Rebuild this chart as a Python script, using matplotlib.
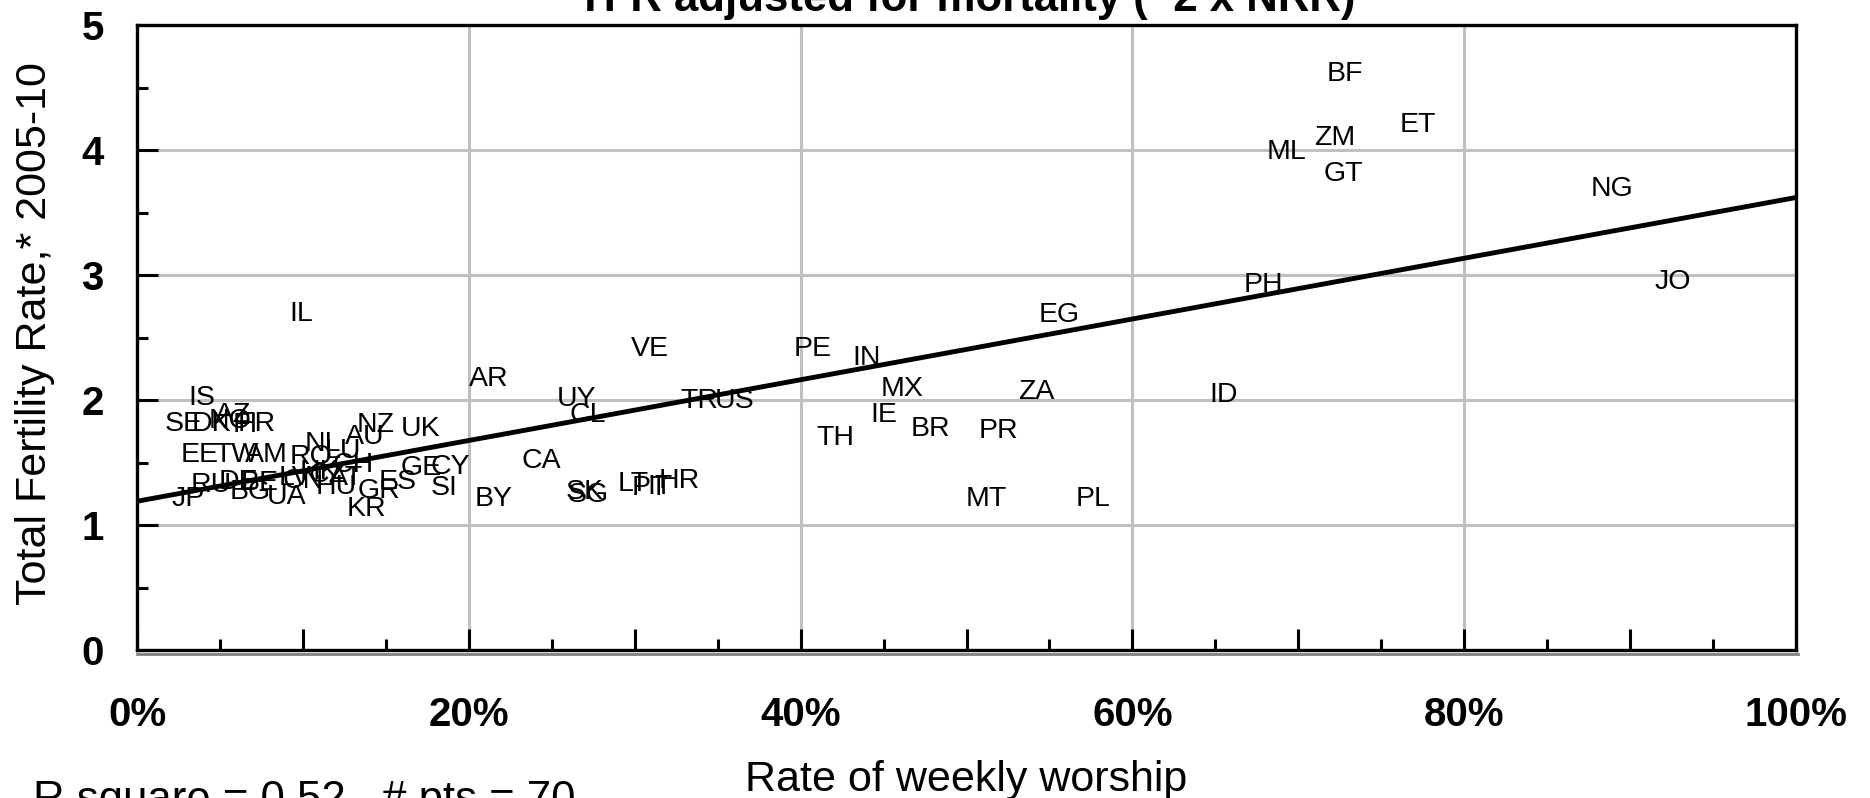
import matplotlib
matplotlib.use("Agg")
import matplotlib.pyplot as plt
from matplotlib.lines import Line2D
from matplotlib.ticker import FixedLocator, FixedFormatter

# ---------------- data ----------------
codes = ["BF", "ET", "ZM", "ML", "GT", "NG", "JO", "PH", "EG", "ID",
         "ZA", "MX", "IE", "BR", "PR", "TH", "MT", "PL", "PE", "IN",
         "VE", "TR", "US", "UY", "CL", "AR", "CA", "BY", "IL",
         "SK", "SG", "LT", "PT", "HR",
         "IS", "SE", "DK", "AZ", "FR", "NO", "EE", "TW", "AM",
         "JP", "RU", "BG", "DE", "UA", "BE",
         "NL", "RO", "NZ", "AU", "UK", "CH", "CZ", "HU", "AT", "KR",
         "ES", "GE", "CY", "SI", "FI", "LU", "GR", "IT", "HK", "LV", "CN"]
worship = [72.8, 77.2, 72.2, 69.3, 72.7, 88.9, 92.6, 67.9, 55.6, 65.5,
           54.2, 46.1, 45.0, 47.8, 51.9, 42.1, 51.2, 57.6, 40.7, 44.0,
           30.9, 33.9, 36.0, 26.5, 27.2, 21.2, 24.4, 21.5, 9.9,
           27.0, 27.2, 29.9, 30.9, 32.7,
           3.9, 2.8, 4.5, 5.8, 7.2, 5.6, 3.8, 6.0, 7.8,
           3.1, 4.5, 6.8, 6.1, 9.0, 7.4,
           11.2, 10.5, 14.4, 13.7, 17.1, 13.0, 11.5, 12.0, 12.6, 13.8,
           15.7, 17.1, 18.9, 18.5, 6.5, 12.4, 14.6, 31.5, 11.0, 9.5, 10.0]
tfr = [4.63, 4.22, 4.12, 4.01, 3.83, 3.71, 2.97, 2.94, 2.70, 2.06,
       2.09, 2.11, 1.90, 1.79, 1.78, 1.72, 1.23, 1.23, 2.43, 2.36,
       2.43, 2.02, 2.02, 2.03, 1.90, 2.19, 1.54, 1.23, 2.71,
       1.29, 1.26, 1.35, 1.32, 1.38,
       2.04, 1.83, 1.83, 1.90, 1.83, 1.86, 1.58, 1.58, 1.58,
       1.23, 1.34, 1.29, 1.37, 1.25, 1.36,
       1.67, 1.57, 1.82, 1.73, 1.79, 1.50, 1.42, 1.33, 1.40, 1.15,
       1.37, 1.48, 1.49, 1.32, 1.82, 1.62, 1.30, 1.33, 1.45, 1.40, 1.38]

fit_intercept = 1.19      # TFR at 0 % worship
fit_slope = 2.43          # change in TFR from 0 % to 100 %

x_major = [0, 10, 20, 30, 40, 50, 60, 70, 80, 90, 100]
x_labels = ["0%", "", "20%", "", "40%", "", "60%", "", "80%", "", "100%"]
x_minor = [5, 15, 25, 35, 45, 55, 65, 75, 85, 95]
y_major = [0, 1, 2, 3, 4, 5]
y_labels = ["0", "1", "2", "3", "4", "5"]
y_minor = [0.5, 1.5, 2.5, 3.5, 4.5]
grid_x = [20, 40, 60, 80]
grid_y = [1, 2, 3, 4]

title = "TFR adjusted for mortality (~2 x NRR)"
ylabel = "Total Fertility Rate,* 2005-10"
xlabel = "Rate of weekly worship"
footnote = "R square = 0.52,  # pts = 70"

# ---------------- figure ----------------
plt.rcParams['font.family'] = ['Liberation Sans', 'DejaVu Sans']

W, H = 1870, 798
fig = plt.figure(figsize=(W / 100, H / 100), dpi=100)
L, R, T, B = 137, 1796, 25, 650
ax = fig.add_axes([L / W, 1 - B / H, (R - L) / W, (B - T) / H])
ax.set_xlim(0, 100)
ax.set_ylim(0, 5)

for gx in grid_x:
    ax.axvline(gx, color='#c0c0c0', lw=2.2, zorder=0)
for gy in grid_y:
    ax.axhline(gy, color='#c0c0c0', lw=2.2, zorder=0)

for c, x, y in zip(codes, worship, tfr):
    ax.text(x, y, c, ha='center', va='center_baseline', fontsize=20.5,
            color='black', zorder=3)

fx = [0, 100]
fy = [fit_intercept + fit_slope * v / 100 for v in fx]
ax.plot(fx, fy, color='black', lw=3.5, zorder=4, solid_capstyle='butt')

ax.xaxis.set_major_locator(FixedLocator(x_major))
ax.xaxis.set_major_formatter(FixedFormatter(x_labels))
ax.xaxis.set_minor_locator(FixedLocator(x_minor))
ax.yaxis.set_major_locator(FixedLocator(y_major))
ax.yaxis.set_major_formatter(FixedFormatter(y_labels))
ax.yaxis.set_minor_locator(FixedLocator(y_minor))

ax.tick_params(which='major', direction='in', length=15, width=2.2, color='black')
ax.tick_params(which='minor', direction='in', length=8, width=2.2, color='black')
ax.tick_params(axis='x', pad=33, labelsize=29)
ax.tick_params(axis='y', pad=24, labelsize=29)
for lab in ax.get_xticklabels() + ax.get_yticklabels():
    lab.set_fontweight('bold')

for s in ax.spines.values():
    s.set_linewidth(2.4)
    s.set_color('black')
    s.set_zorder(5)

# grey shadow under bottom axis
fig.add_artist(Line2D([L / W, (R + 2) / W], [1 - 654 / H, 1 - 654 / H],
                      color='#808080', lw=2.0, transform=fig.transFigure))

fig.text(966 / W, 1 - 11.5 / H, title, ha='center', va='baseline',
         fontsize=31.5, fontweight='bold')
fig.text(35 / W, 1 - 334 / H, ylabel, ha='center', va='center',
         rotation=90, fontsize=31)
fig.text(966 / W, 1 - 791 / H, xlabel, ha='center', va='baseline', fontsize=31)
fig.text(33 / W, 1 - 812 / H, footnote, ha='left', va='baseline', fontsize=31.5)

fig.savefig("out.png", dpi=100)
